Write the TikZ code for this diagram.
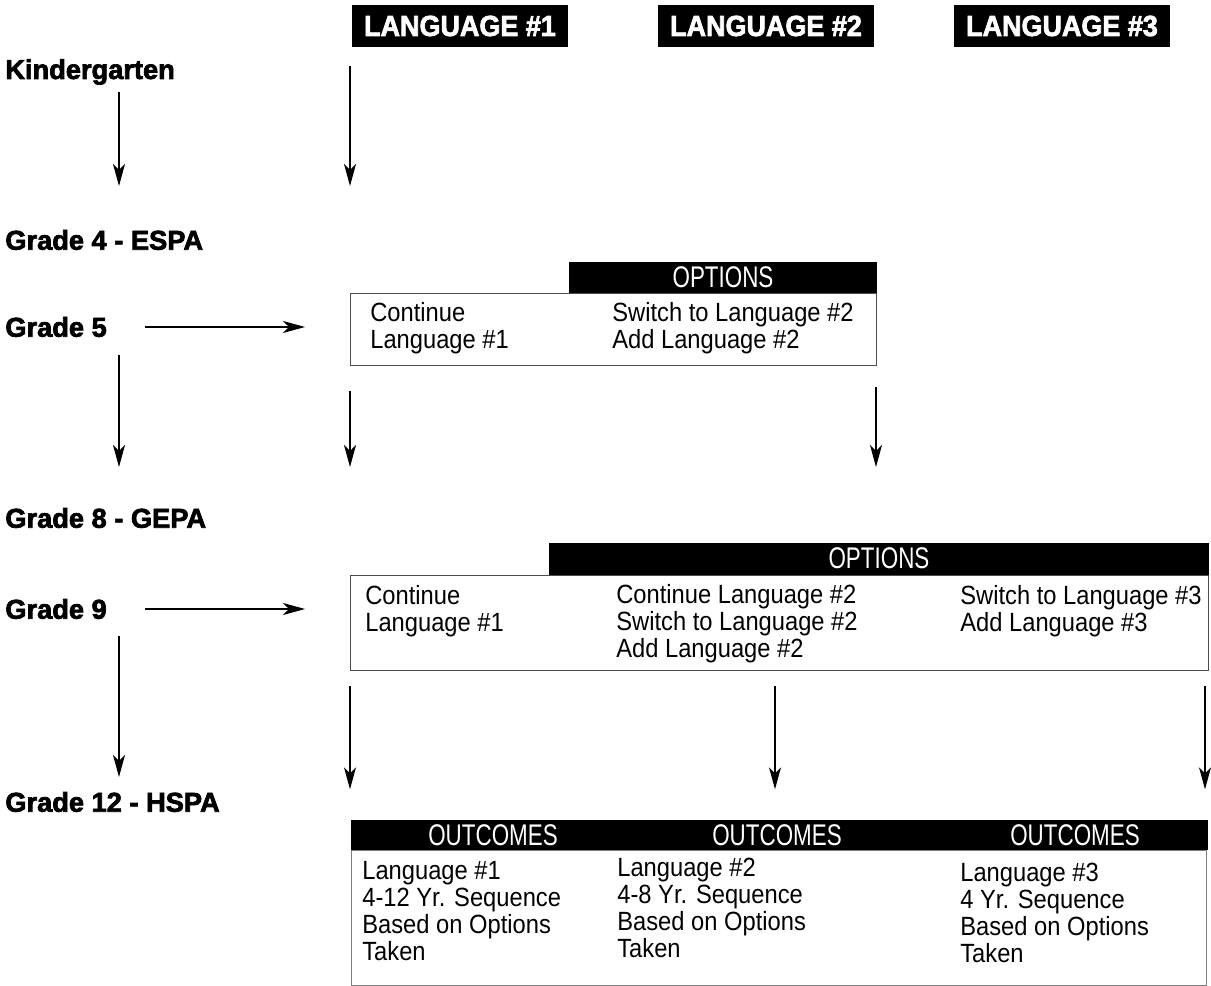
\documentclass[tikz,border=0pt]{standalone}
\usepackage{fontspec}
\setmainfont{Liberation Sans}
\newfontfamily\gradefont[FakeBold=2.5]{Liberation Sans Bold}
\newfontfamily\langfont[FakeBold=2.5,FakeStretch=0.93]{Liberation Sans Bold}
\newfontfamily\barfont[FakeStretch=0.75]{Liberation Sans}
\newfontfamily\bodyfont[FakeStretch=0.9]{Liberation Sans}
\usetikzlibrary{arrows.meta}
\begin{document}
\begin{tikzpicture}[x=0.02cm,y=-0.02cm]
        \tikzstyle{grade}=[anchor=west, inner sep=0pt, font=\gradefont\fontsize{15.5}{18}\selectfont]
        \tikzstyle{lang}=[fill=black, text=white, inner sep=0pt, minimum width=4.32cm, minimum height=0.84cm, font=\langfont\fontsize{16.5}{18}\selectfont]
        \tikzstyle{bar}=[fill=black, text=white, inner sep=0pt, minimum height=0.62cm, font=\barfont\fontsize{17}{18}\selectfont]
        \tikzstyle{bartxt}=[text=white, inner sep=0pt, font=\barfont\fontsize{17}{18}\selectfont]
        \tikzstyle{box}=[draw=black!70, line width=0.8pt, inner sep=0pt, anchor=north west]
        \tikzstyle{txt}=[anchor=west, align=left, inner sep=0pt, font=\bodyfont\fontsize{15}{15.4}\selectfont]
        \tikzstyle{arr}=[-{Stealth[length=4.4mm,width=2.4mm,inset=1.2mm]}, line width=0.8pt]
        \useasboundingbox (0,0) rectangle (1211,986);
        % columns
        \coordinate (cL) at (119,0);
        \coordinate (c1) at (350,0);
        \coordinate (c2) at (876,0);
        \coordinate (c3) at (775,0);
        \coordinate (c4) at (1205,0);
        % languages
        \node[lang] (l1) at (460,26) {LANGUAGE \#1};
        \node[lang] (l2) at (766,26) {LANGUAGE \#2};
        \node[lang] (l3) at (1062,26) {LANGUAGE \#3};
        % grades
        \node[grade] (kg) at (5,72) {Kindergarten};
        \node[grade] (g4) at (5,240) {Grade 4 - ESPA};
        \node[grade] (g5) at (5,327) {Grade 5};
        \node[grade] (g8) at (5,518) {Grade 8 - GEPA};
        \node[grade] (g9) at (5,609) {Grade 9};
        \node[grade] (g12) at (5,802) {Grade 12 - HSPA};
        % options after grade 5
        \node[box, minimum width=10.52cm, minimum height=1.44cm] (opt1) at (350,293) {};
        \node[bar, anchor=south east, minimum width=6.16cm] (opt1bar) at (opt1.north east) {OPTIONS};
        \node[txt] (o1a) at (370,328) {Continue\\Language \#1};
        \node[txt] (o1b) at (612,328) {Switch to Language \#2\\Add Language \#2};
        % options after grade 9
        \node[box, minimum width=17.16cm, minimum height=1.9cm] (opt2) at (350,575) {};
        \node[bar, anchor=south east, minimum width=13.2cm, minimum height=0.64cm] (opt2bar) at (opt2.north east) {OPTIONS};
        \node[txt] (o2a) at (365,611) {Continue\\Language \#1};
        \node[txt] (o2b) at (616,624) {Continue Language \#2\\Switch to Language \#2\\Add Language \#2};
        \node[txt] (o2c) at (960,611) {Switch to Language \#3\\Add Language \#3};
        % outcomes
        \node[box, draw=black!50, minimum width=17.1cm, minimum height=2.7cm] (out) at (351,850) {};
        \node[bar, anchor=south west, minimum width=17.14cm, minimum height=0.6cm] (outbar) at (out.north west) {};
        \node[bartxt] (oc1) at (493,835) {OUTCOMES};
        \node[bartxt] (oc2) at (777,835) {OUTCOMES};
        \node[bartxt] (oc3) at (1075,835) {OUTCOMES};
        \node[txt] (r1) at (362,911) {Language \#1\\4-12 Yr. Sequence\\Based on Options\\Taken};
        \node[txt] (r2) at (617,908) {Language \#2\\4-8 Yr. Sequence\\Based on Options\\Taken};
        \node[txt] (r3) at (960,913) {Language \#3\\4 Yr. Sequence\\Based on Options\\Taken};
        % arrows
        \draw[arr, shorten <=0.4cm, shorten >=1.08cm] (kg -| cL) -- (g4 -| cL);
        \draw[arr, shorten <=0.38cm, shorten >=1.08cm] (l1.south -| c1) -- (g4 -| c1);
        \draw[arr, shorten <=0.52cm, shorten >=0.9cm] (g5 -| cL) -- (g5 -| opt1.west);
        \draw[arr, shorten <=0.56cm, shorten >=1.02cm] (g5 -| cL) -- (g8 -| cL);
        \draw[arr, shorten <=0.5cm, shorten >=1.02cm] (opt1.south -| c1) -- (g8 -| c1);
        \draw[arr, shorten <=0.42cm, shorten >=1.02cm] (opt1.south -| c2) -- (g8 -| c2);
        \draw[arr, shorten <=0.52cm, shorten >=0.9cm] (g9 -| cL) -- (g9 -| opt2.west);
        \draw[arr, shorten <=0.54cm, shorten >=0.5cm] (g9 -| cL) -- (g12 -| cL);
        \draw[arr, shorten <=0.3cm, shorten >=0.6cm] (opt2.south -| c1) -- (outbar.north -| c1);
        \draw[arr, shorten <=0.3cm, shorten >=0.6cm] (opt2.south -| c3) -- (outbar.north -| c3);
        \draw[arr, shorten <=0.3cm, shorten >=0.6cm] (opt2.south -| c4) -- (outbar.north -| c4);
\end{tikzpicture}
\end{document}
